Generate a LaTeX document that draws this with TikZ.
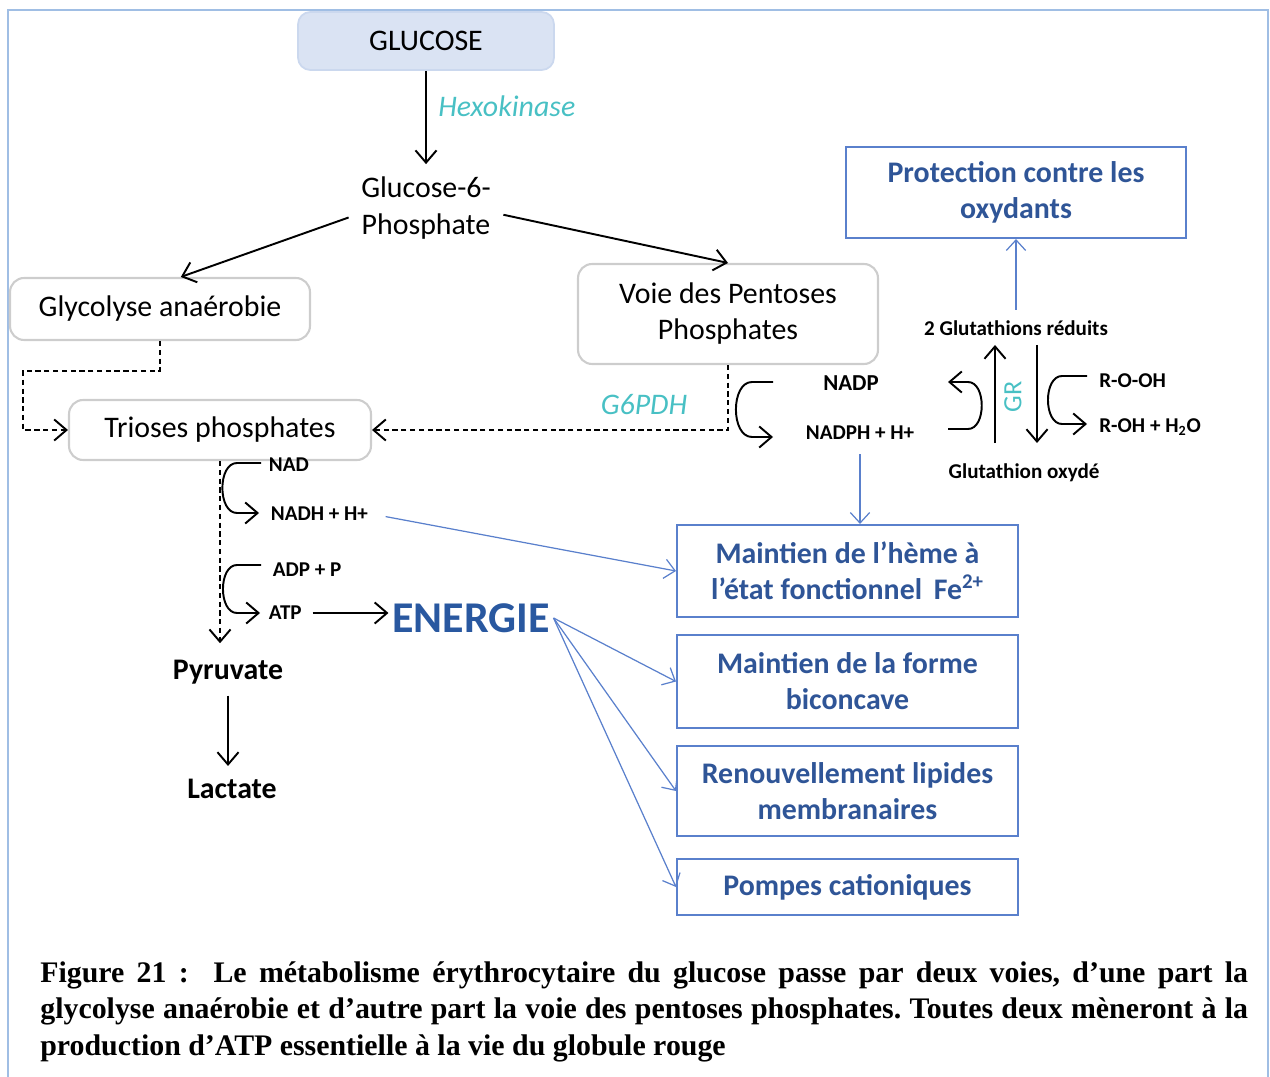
\documentclass[tikz,border=0pt]{standalone}
\usepackage{fontspec}
\setmainfont{Carlito}
\newfontfamily\captionfont{Liberation Serif}
\usetikzlibrary{positioning,arrows.meta}
\definecolor{frameBlue}{RGB}{160,190,228}
\definecolor{glucFill}{RGB}{218,227,243}
\definecolor{glucDraw}{RGB}{203,216,238}
\definecolor{boxGray}{RGB}{205,205,205}
\definecolor{enzTeal}{RGB}{72,192,196}
\definecolor{lineBlue}{RGB}{90,128,204}
\definecolor{textBlue}{RGB}{47,85,151}
\definecolor{energyBlue}{RGB}{41,88,160}
\tikzset{
    >={Straight Barb[length=7pt,width=12pt]},
    arr/.style={->, line width=1.1pt},
    dashArr/.style={->, line width=1.1pt, dash pattern=on 3pt off 2pt},
    blueArr/.style={-{Straight Barb[length=6pt,width=11pt]}, draw=lineBlue, line width=0.7pt},
    plainTxt/.style={font=\fontsize{17}{21}\selectfont, align=center},
    boldTxt/.style={font=\bfseries\fontsize{17}{21}\selectfont},
    smallTxt/.style={font=\bfseries\fontsize{12}{15}\selectfont, inner sep=2pt},
    enzyme/.style={text=enzTeal, font=\itshape\fontsize{17}{21}\selectfont, inner sep=0pt},
    glucBox/.style={fill=glucFill, draw=glucDraw, line width=1pt, rounded corners=7pt,
        minimum width=5.12cm, minimum height=1.16cm, plainTxt},
    grayBox/.style={draw=boxGray, line width=1.2pt, rounded corners=8pt, plainTxt,
        font=\fontsize{17}{20.5}\selectfont},
    blueBox/.style={draw=lineBlue, line width=1.2pt, text=textBlue, align=center,
        font=\bfseries\fontsize{17}{20.5}\selectfont, minimum width=6.82cm},
}
\begin{document}
\begin{tikzpicture}[x=0.02cm,y=-0.02cm]
    \useasboundingbox (0,0) rectangle (1270,1077);
    % cadre
    \draw[frameBlue, line width=1.5pt] (8,1077) -- (8,10) -- (1268,10) -- (1268,1077);

    % glycolyse
    \node[glucBox] (glucose) at (426,41) {GLUCOSE};
    \node[plainTxt, inner sep=7pt] (g6p) at (426,208) {Glucose-6-\\Phosphate};
    \node[enzyme, anchor=west] (hexo) at (438,106) {Hexokinase};
    \node[grayBox, minimum width=6cm, minimum height=1.24cm] (glyco) at (160,309) {Glycolyse anaérobie};
    \node[grayBox, minimum width=6cm, minimum height=2cm] (pentoses) at (728,314) {Voie des Pentoses\\Phosphates};
    \node[grayBox, minimum width=6.04cm, minimum height=1.2cm] (trioses) at (220,430) {Trioses phosphates};
    \node[enzyme] (g6pdh) at (644,405) {G6PDH};
    \coordinate (bendL) at (23,430);

    \draw[arr] (glucose) -- (g6p);
    \draw[arr] (g6p.187) -- (glyco.57);
    \draw[arr] (g6p.-5) -- (pentoses.north);
    \draw[dashArr] (glyco.south) -- ++(0,30) -| (bendL) -- (trioses.west);
    \draw[dashArr] (pentoses.south) |- (trioses.east);

    % NADP / glutathion
    \node[smallTxt, font=\bfseries\fontsize{13}{15}\selectfont] (nadp) at (851,383) {NADP};
    \node[smallTxt] (nadph) at (860,433) {NADPH + H+};
    \node[smallTxt] (gsh) at (1016,328) {2 Glutathions réduits};
    \node[smallTxt] (gssg) at (1024,473) {Glutathion oxydé};
    \node[smallTxt, anchor=west, inner sep=0pt] (rooh) at (1099,381) {R-O-OH};
    \node[smallTxt, anchor=west, inner sep=0pt] (roh) at (1099,427) {R-OH + H\textsubscript{2}O};
    \node[text=enzTeal, font=\fontsize{15}{17}\selectfont, rotate=90] (gr) at (1013,397) {GR};
    \coordinate (nadpIn) at (773,382);
    \coordinate (nadphOut) at (773,437);
    \coordinate (grUpB) at (995,443);
    \coordinate (grUpT) at (995,345);
    \coordinate (grDnT) at (1037,345);
    \coordinate (grDnB) at (1037,443);
    \coordinate (nadphIn) at (948,429);
    \coordinate (nadpOut) at (948,382);
    \coordinate (roohIn) at (1087,376);
    \coordinate (rohOut) at (1087,424);

    \draw[arr] (nadpIn) -- ++(-21,0) to[out=180,in=180] ([xshift=-21*0.02cm]nadphOut) -- (nadphOut);
    \draw[arr] (nadphIn) -- ++(20,0) to[out=0,in=0] ([xshift=20*0.02cm]nadpOut) -- (nadpOut);
    \draw[arr] (roohIn) -- ++(-25,0) to[out=180,in=180] ([xshift=-25*0.02cm]rohOut) -- (rohOut);
    \draw[arr] (grUpB) -- (grUpT);
    \draw[arr] (grDnT) -- (grDnB);

    % bilan glycolyse
    \node[smallTxt, anchor=west] (nad) at (265,465) {NAD};
    \node[smallTxt, anchor=west] (nadh) at (267,514) {NADH + H+};
    \node[smallTxt, anchor=west] (adp) at (269,570) {ADP + P};
    \node[smallTxt, anchor=west] (atp) at (265,613) {ATP};
    \node[text=energyBlue, font=\bfseries\fontsize{25}{29}\selectfont, inner sep=2pt] (energie) at (471,618) {ENERGIE};
    \node[boldTxt] (pyr) at (228,672) {Pyruvate};
    \node[boldTxt] (lac) at (232,789) {Lactate};
    \coordinate (nadIn) at (261,463);
    \coordinate (nadhOut) at (259,513);
    \coordinate (adpIn) at (261,565);
    \coordinate (atpOut) at (260,613);

    \draw[arr] (nadIn) -- ++(-24,0) to[out=180,in=180] ([xshift=-22*0.02cm]nadhOut) -- (nadhOut);
    \draw[arr] (adpIn) -- ++(-24,0) to[out=180,in=180] ([xshift=-23*0.02cm]atpOut) -- (atpOut);
    \draw[dashArr, shorten >=6pt] (trioses.south) -- (trioses.south |- pyr.north);
    \draw[arr, shorten <=3pt, shorten >=4pt] (pyr.south) -- (pyr.south |- lac.north);
    \draw[arr, shorten <=4pt] (atp.east) -- (atp.east -| energie.west);

    % roles
    \node[blueBox, minimum width=6.8cm, minimum height=1.82cm] (protect) at (1016,192.5) {Protection contre les\\oxydants};
    \node[blueBox, minimum height=1.84cm] (heme) at (847.5,571) {Maintien de l’hème à\\l’état fonctionnel\ \,Fe\textsuperscript{2+}};
    \node[blueBox, minimum height=1.86cm] (forme) at (847.5,681.5) {Maintien de la forme\\biconcave};
    \node[blueBox, minimum height=1.8cm] (lipides) at (847.5,791) {Renouvellement lipides\\membranaires};
    \node[blueBox, minimum height=1.12cm] (pompes) at (847.5,887) {Pompes cationiques};

    \draw[blueArr, shorten <=4pt] (gsh.north) -- (protect.south);
    \draw[blueArr, shorten <=6pt] (nadph.south) -- (nadph.south |- heme.north);
    \draw[blueArr, shorten <=8pt] (nadh.east) -- (heme.west);
    \draw[blueArr] (energie.east) -- (forme.west);
    \draw[blueArr] (energie.east) -- (lipides.west);
    \draw[blueArr] (energie.east) -- (pompes.west);

    % legende
    \node[anchor=north west, inner sep=0pt, text width=24.16cm, align=justify,
        font=\captionfont\bfseries\fontsize{17}{20.8}\selectfont\frenchspacing] (caption) at (40,961)
        {Figure 21 :\ \ Le métabolisme érythrocytaire du glucose passe par deux voies, d’une part la\linebreak
        glycolyse anaérobie et d’autre part la voie des pentoses phosphates. Toutes deux mèneront à la\linebreak
        production d’ATP essentielle à la vie du globule rouge};
\end{tikzpicture}
\end{document}
